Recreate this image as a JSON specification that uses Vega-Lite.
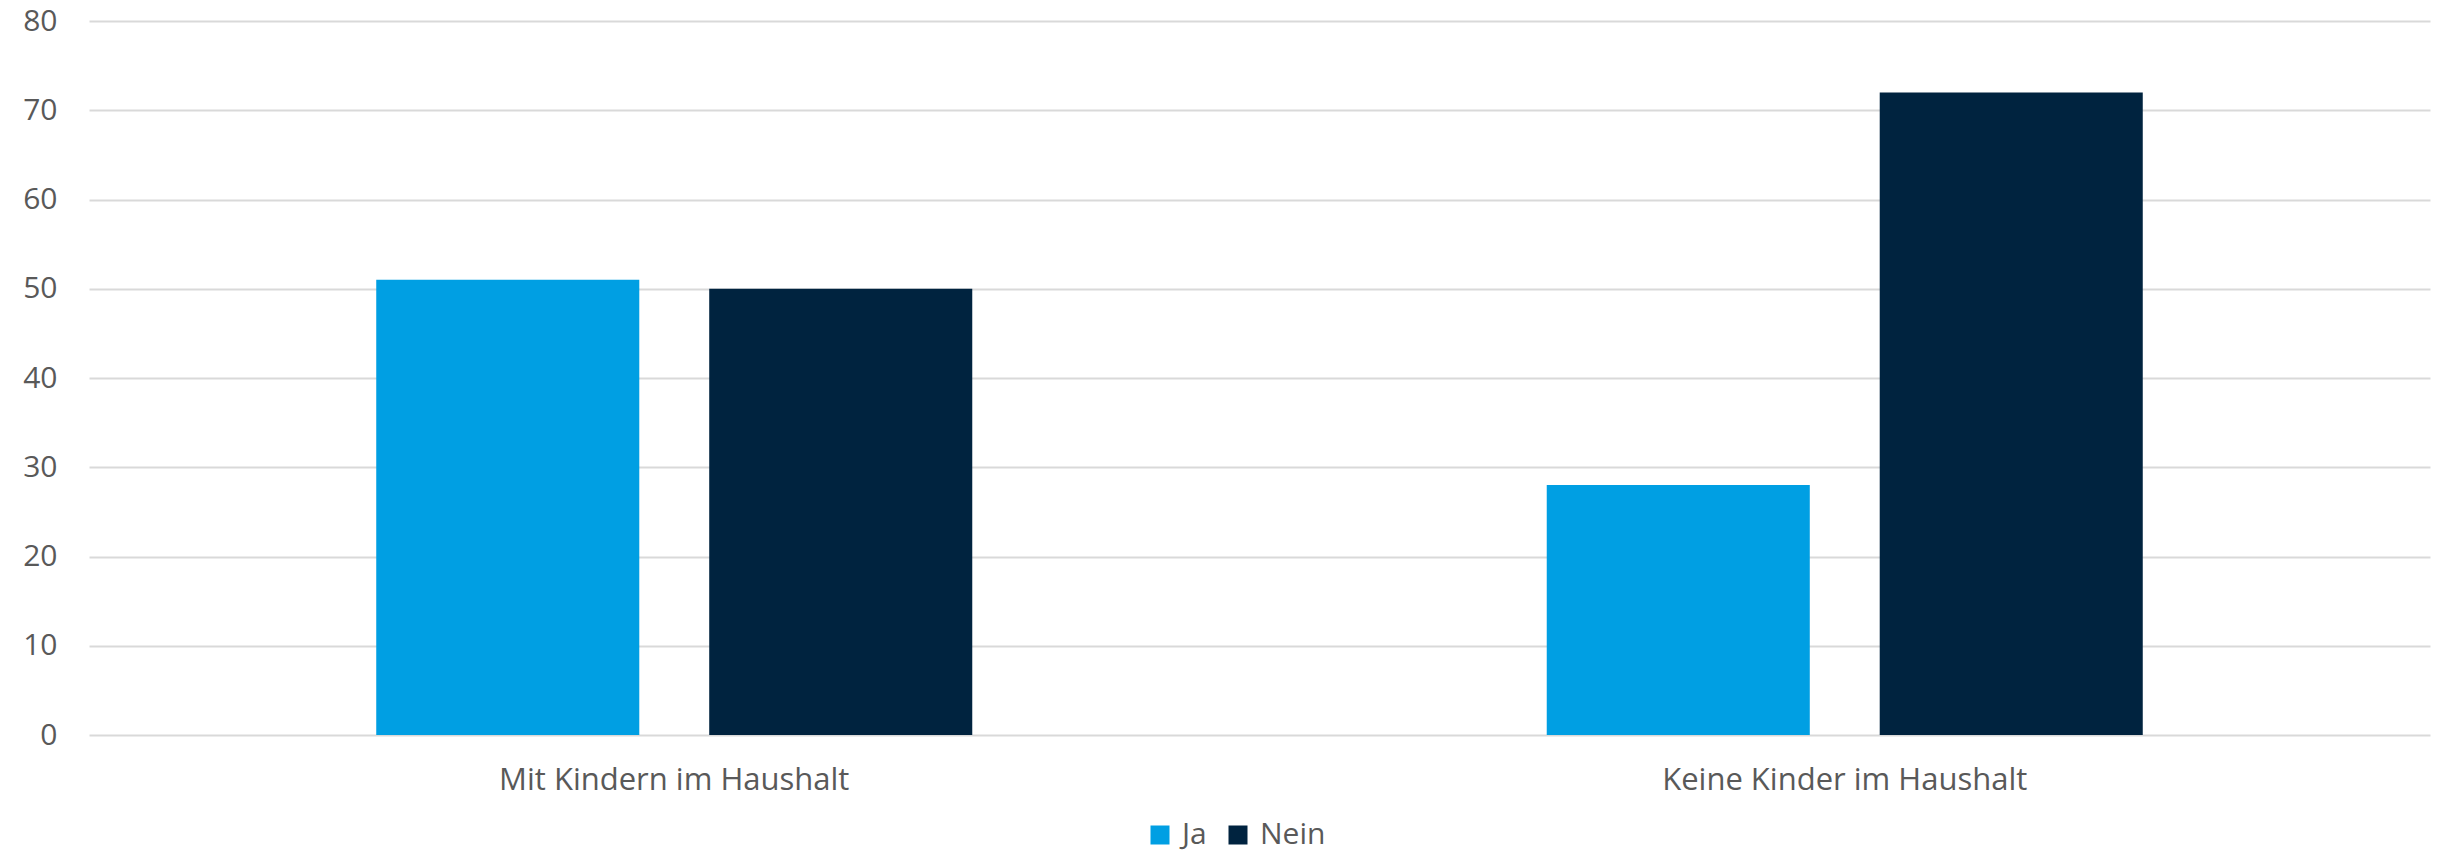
{
  "$schema": "https://vega.github.io/schema/vega-lite/v6.json",
  "autosize": "none",
  "width": 2341,
  "height": 714,
  "padding": {"left": 89, "top": 21, "right": 8, "bottom": 123},
  "background": "white",
  "config": {
    "view": {"stroke": null},
    "font": "Open Sans"
  },
  "data": {
    "values": [
      {"Gruppe": "Mit Kindern im Haushalt", "Antwort": "Ja", "Wert": 51},
      {"Gruppe": "Mit Kindern im Haushalt", "Antwort": "Nein", "Wert": 50},
      {"Gruppe": "Keine Kinder im Haushalt", "Antwort": "Ja", "Wert": 28},
      {"Gruppe": "Keine Kinder im Haushalt", "Antwort": "Nein", "Wert": 72}
    ]
  },
  "mark": {"type": "bar"},
  "encoding": {
    "x": {
      "field": "Gruppe",
      "type": "nominal",
      "sort": ["Mit Kindern im Haushalt", "Keine Kinder im Haushalt"],
      "scale": {"paddingInner": 0.4908, "paddingOuter": 0.2454},
      "axis": {
        "title": null,
        "labelAngle": 0,
        "labelFontSize": 31,
        "labelColor": "#595959",
        "labelPadding": 30,
        "labelLimit": 0,
        "ticks": false,
        "domain": false
      }
    },
    "xOffset": {
      "field": "Antwort",
      "type": "nominal",
      "scale": {"paddingInner": 0.21, "paddingOuter": 0}
    },
    "y": {
      "field": "Wert",
      "type": "quantitative",
      "scale": {"domain": [0, 80], "nice": false},
      "axis": {
        "title": null,
        "values": [0, 10, 20, 30, 40, 50, 60, 70, 80],
        "labelFontSize": 30,
        "labelColor": "#595959",
        "labelPadding": 32,
        "labelBaseline": "middle",
        "ticks": false,
        "domain": false,
        "grid": true,
        "gridColor": "#d9d9d9",
        "gridWidth": 2
      }
    },
    "color": {
      "field": "Antwort",
      "type": "nominal",
      "scale": {"domain": ["Ja", "Nein"], "range": ["#009fe3", "#00233f"]},
      "legend": {
        "title": null,
        "orient": "none",
        "direction": "horizontal",
        "legendX": 1056,
        "legendY": 799,
        "symbolType": "square",
        "symbolSize": 361,
        "symbolStrokeWidth": 0,
        "labelFontSize": 30,
        "labelColor": "#595959",
        "labelOffset": 7,
        "columnPadding": 16
      }
    }
  }
}
